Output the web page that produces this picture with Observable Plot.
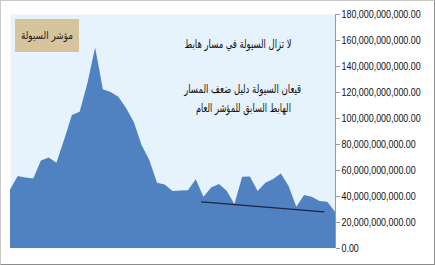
<!DOCTYPE html>
<html>
<head>
<meta charset="utf-8">
<script src="https://cdn.jsdelivr.net/npm/d3@7"></script>
<script src="https://cdn.jsdelivr.net/npm/@observablehq/plot@0.6"></script>
<style>
  html, body { margin: 0; padding: 0; background: #fff; }
  #wrap { position: relative; width: 435px; height: 265px; overflow: hidden; background: #fff; }
  #border { position: absolute; left: 0; top: 0; width: 435px; height: 265px; box-sizing: border-box;
            border: 1px solid #c8c8c8; border-right-color: #8c8c8c; border-bottom-color: #8c8c8c; pointer-events: none; }
  #title { position: absolute; left: 15px; top: 19px; width: 64px; height: 33px; background: #d6c59c;
           font-family: "DejaVu Sans", sans-serif; font-size: 10.5px; color: #1a1a1a; direction: rtl;
           text-align: center; line-height: 33px; white-space: nowrap; }
  #title span { display: inline-block; transform: scale(0.84, 1); }
</style>
</head>
<body>
<div id="wrap"></div>
<script>
// Liquidity index values (billions), one per period
const periods = d3.range(43);
const liquidity = [
  45.0, 55.4, 54.2, 53.5, 67.3, 69.6, 65.6, 83.5, 102.3, 104.8,
  126.7, 154.2, 122.1, 120.0, 116.4, 107.7, 96.9, 79.2, 67.7, 50.2,
  48.8, 43.8, 44.2, 44.4, 52.8, 39.5, 46.5, 49.2, 44.0, 33.8,
  54.8, 55.0, 43.8, 50.2, 53.1, 57.3, 47.7, 31.8, 40.8, 39.5,
  36.2, 35.6, 27.9
];
const yTicks = [0, 20, 40, 60, 80, 100, 120, 140, 160, 180];

// Trend line (start / end)
const trendX = [24.7, 40.5];
const trendY = [35.8, 28.2];

// Annotations
const titleText = "مؤشر السيولة";
const noteLines = [
  "لا تزال السيولة في مسار هابط",
  "قيعان السيولة دليل ضعف المسار",
  "الهابط السابق للمؤشر العام"
];
const noteX = [29.4, 30.0, 30.1];
const noteY = [157.0, 122.5, 107.7];
const noteWidths = [107, 117, 95];

const B = 1e9;
const series = periods.map((p, i) => ({p, v: liquidity[i] * B}));
const trend = trendX.map((x, i) => ({x, y: trendY[i] * B}));
const notes = noteLines.map((t, i) => ({t, x: noteX[i], y: noteY[i] * B}));

const chart = Plot.plot({
  width: 435,
  height: 265,
  marginLeft: 10,
  marginRight: 100,
  marginTop: 14,
  marginBottom: 17,
  style: {background: "transparent", overflow: "visible"},
  x: {domain: [0, 42], axis: null},
  y: {domain: [0, 180 * B]},
  marks: [
    Plot.frame({fill: "#e7f3fc", stroke: null}),
    Plot.areaY(series, {x: "p", y: "v", fill: "#5082c2", curve: "linear"}),
    Plot.line(trend, {x: "x", y: "y", stroke: "#1c2540", strokeWidth: 1.3}),
    Plot.text(notes, {x: "x", y: "y", text: "t", fontSize: 12, fill: "#111",
      fontFamily: "DejaVu Sans, sans-serif", textAnchor: "middle"}),
    Plot.ruleX([42], {stroke: "#9a9a9a"}),
    Plot.axisY(yTicks.map(d => d * B), {
      anchor: "right", tickSize: 4, tickPadding: 2, stroke: "#9a9a9a",
      tickFormat: d3.format(",.2f"), fontSize: 11, fill: "#111", fontVariant: "normal",
      fontFamily: "Liberation Sans, Arial, sans-serif"
    })
  ]
});

const wrap = document.getElementById("wrap");
wrap.appendChild(chart);
const t = document.createElement("div");
t.id = "title";
const ts = document.createElement("span");
ts.textContent = titleText;
t.appendChild(ts);
wrap.appendChild(t);
const b = document.createElement("div");
b.id = "border";
wrap.appendChild(b);

chart.querySelectorAll("text").forEach(el => {
  const s = el.textContent.trim();
  const i = noteLines.indexOf(s);
  if (i >= 0) {
    el.setAttribute("direction", "rtl");
    el.setAttribute("unicode-bidi", "embed");
    el.setAttribute("textLength", noteWidths[i]);
    el.setAttribute("lengthAdjust", "spacingAndGlyphs");
  } else if (/[0-9]/.test(s)) {
    // condense tick labels horizontally (narrow font in the original)
    const x = +(el.getAttribute("x") || 0);
    const tr = el.getAttribute("transform") || "";
    el.setAttribute("transform", `${tr} translate(${x},0) scale(0.81,1) translate(${-x},0)`);
  }
});
</script>
</body>
</html>
